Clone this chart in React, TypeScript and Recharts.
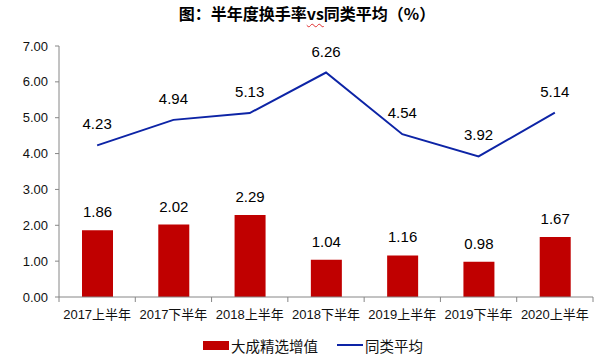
import React from 'react';
import { ComposedChart, Bar, Line, XAxis, YAxis, LabelList } from 'recharts';

const categories = ['2017上半年', '2017下半年', '2018上半年', '2018下半年', '2019上半年', '2019下半年', '2020上半年'];
const fundValues = [1.86, 2.02, 2.29, 1.04, 1.16, 0.98, 1.67];
const peerAverage = [4.23, 4.94, 5.13, 6.26, 4.54, 3.92, 5.14];
const yTicks = [0, 1, 2, 3, 4, 5, 6, 7];

const FUND_NAME = '大成精选增值';
const PEER_NAME = '同类平均';

const BAR_COLOR = '#C00000';
const LINE_COLOR = '#0D24A6';
const AXIS_COLOR = '#868686';
const FONT = '"Liberation Sans", Arial, "Noto Sans CJK SC", sans-serif';

const chartData = categories.map((name, i) => ({
  name,
  fund: fundValues[i],
  peer: peerAverage[i],
}));

const TICK_SIZE = 5;
const TICK_MARGIN = 8;

// category axis with tick marks on the band edges, like Excel
const CategoryTick = (props: any) => {
  const { x, y, payload, index } = props;
  const half = payload && payload.offset ? payload.offset : 38;
  const axisY = y - TICK_SIZE - TICK_MARGIN;
  return (
    <g>
      <line x1={x - half} x2={x - half} y1={axisY} y2={axisY + TICK_SIZE} stroke={AXIS_COLOR} />
      {index === categories.length - 1 && (
        <line x1={x + half} x2={x + half} y1={axisY} y2={axisY + TICK_SIZE} stroke={AXIS_COLOR} />
      )}
      <text x={x} y={y} dy="0.71em" textAnchor="middle" fontSize={13} fill="#111" fontFamily={FONT}>
        {payload.value}
      </text>
    </g>
  );
};

const fmt = (v: any) => Number(v).toFixed(2);

export default function App() {
  return (
    <div style={{ position: 'absolute', left: 0, top: 0, width: 604, height: 361, background: '#fff', fontFamily: FONT }}>
      <div
        style={{
          position: 'absolute',
          top: 2,
          left: 157,
          width: 300,
          textAlign: 'center',
          fontSize: 16,
          fontWeight: 700,
          lineHeight: '22px',
          whiteSpace: 'nowrap',
          color: '#000',
          fontFamily: '"Noto Sans CJK SC", sans-serif',
        }}
      >
        图：半年度换手率
        <span style={{ textDecoration: 'underline wavy #e03030', textDecorationThickness: 1, textUnderlineOffset: 3 }}>vs</span>
        同类平均（%）
      </div>

      <ComposedChart
        width={604}
        height={361}
        data={chartData}
        margin={{ top: 46, right: 11, left: 0, bottom: 34 }}
        barCategoryGap="30%"
      >
        <XAxis
          dataKey="name"
          height={30}
          axisLine={{ stroke: AXIS_COLOR }}
          tickLine={false}
          tickSize={TICK_SIZE}
          tickMargin={TICK_MARGIN}
          interval={0}
          tick={<CategoryTick />}
        />
        <YAxis
          width={59}
          domain={[0, 7]}
          ticks={yTicks}
          interval={0}
          tickFormatter={fmt}
          axisLine={{ stroke: AXIS_COLOR }}
          tickLine={{ stroke: AXIS_COLOR }}
          tickSize={4}
          tickMargin={7}
          tick={{ fontSize: 13, fill: '#111', fontFamily: FONT }}
        />
        <Bar dataKey="fund" name={FUND_NAME} fill={BAR_COLOR} barSize={31} isAnimationActive={false}>
          <LabelList dataKey="fund" position="top" offset={13} formatter={fmt} fontSize={15} fill="#000" fontFamily={FONT} />
        </Bar>
        <Line
          dataKey="peer"
          name={PEER_NAME}
          type="linear"
          stroke={LINE_COLOR}
          strokeWidth={2}
          dot={false}
          activeDot={false}
          isAnimationActive={false}
        >
          <LabelList dataKey="peer" position="top" offset={16} formatter={fmt} fontSize={15} fill="#000" fontFamily={FONT} />
        </Line>
      </ComposedChart>

      <div
        style={{
          position: 'absolute',
          top: 335,
          left: 203,
          height: 20,
          display: 'flex',
          alignItems: 'center',
          fontSize: 14.5,
          color: '#111',
          whiteSpace: 'nowrap',
          fontFamily: '"Noto Sans CJK SC", sans-serif',
        }}
      >
        <span style={{ display: 'inline-block', width: 26, height: 9, background: BAR_COLOR, marginRight: 2 }} />
        <span>{FUND_NAME}</span>
        <span style={{ display: 'inline-block', width: 26, height: 2, background: LINE_COLOR, marginLeft: 19, marginRight: 2 }} />
        <span>{PEER_NAME}</span>
      </div>
    </div>
  );
}
